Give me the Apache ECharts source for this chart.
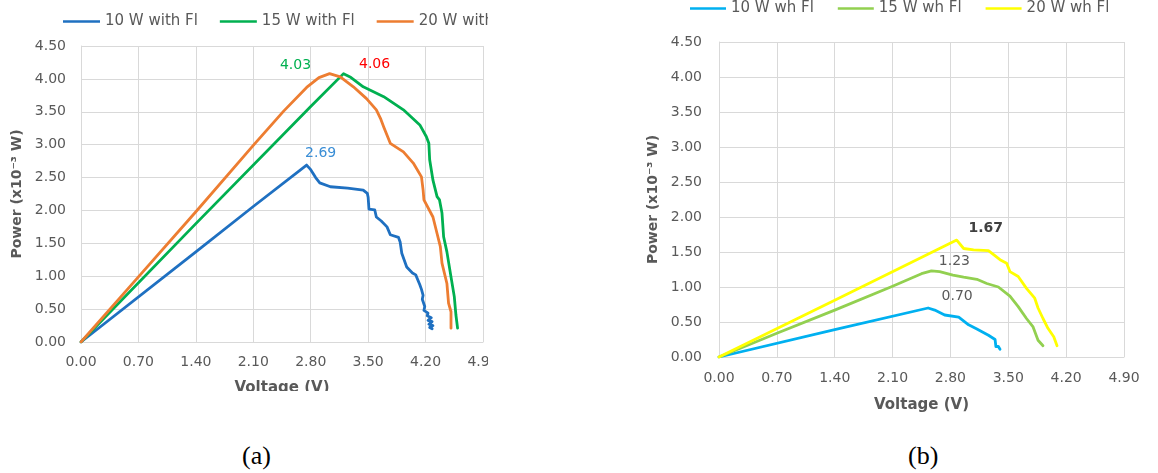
<!DOCTYPE html>
<html>
<head>
<meta charset="utf-8">
<script src="https://cdn.jsdelivr.net/npm/echarts@6/dist/echarts.min.js"></script>
<style>
html,body{margin:0;padding:0;background:#fff;width:1158px;height:473px;overflow:hidden;position:relative;}
#ca{position:absolute;left:0;top:0;width:488px;height:391px;}
#cb{position:absolute;left:600px;top:0;width:558px;height:430px;}
.cap{position:absolute;top:440px;font-family:"Liberation Serif","Times New Roman",serif;font-size:26px;color:#000;line-height:32px;}
</style>
</head>
<body>
<div id="ca"></div>
<div id="cb"></div>
<div class="cap" style="left:242px;">(a)</div>
<div class="cap" style="left:908px;">(b)</div>
<script>
// ---- data (Voltage V, Power x10^-3 W) ----
var xTicks = [0, 0.7, 1.4, 2.1, 2.8, 3.5, 4.2, 4.9];
var yTicks = [0, 0.5, 1, 1.5, 2, 2.5, 3, 3.5, 4, 4.5];

var names_a = ['10 W with Fl', '15 W with Fl', '20 W with Fl'];
var names_b = ['10 W wh Fl', '15 W wh Fl', '20 W wh Fl'];

var w10Fl = [[0,0],[1.4,1.37],[2.10,2.06],[2.75,2.69],[2.80,2.62],[2.86,2.50],[2.91,2.42],[3.04,2.36],[3.25,2.34],[3.44,2.31],[3.49,2.26],[3.50,2.20],[3.51,2.02],[3.58,2.01],[3.60,1.90],[3.66,1.84],[3.73,1.75],[3.77,1.63],[3.87,1.59],[3.89,1.52],[3.91,1.35],[3.97,1.14],[4.04,1.05],[4.08,1.02],[4.13,0.87],[4.15,0.80],[4.17,0.71],[4.16,0.65],[4.19,0.54],[4.18,0.48],[4.23,0.44],[4.22,0.40],[4.27,0.37],[4.23,0.33],[4.28,0.31],[4.24,0.27],[4.29,0.25],[4.25,0.22],[4.28,0.20]];
var w15Fl = [[0,0],[1.4,1.80],[2.8,3.58],[3.20,4.08],[3.28,4.03],[3.44,3.88],[3.69,3.73],[3.93,3.53],[4.13,3.30],[4.21,3.12],[4.24,3.02],[4.25,2.77],[4.29,2.46],[4.34,2.21],[4.37,2.16],[4.40,1.96],[4.42,1.60],[4.46,1.37],[4.51,0.99],[4.55,0.69],[4.57,0.41],[4.59,0.40],[4.59,0.21]];
var w20Fl = [[0,0],[0.7,0.99],[1.4,1.98],[2.1,2.99],[2.47,3.51],[2.75,3.87],[2.90,4.02],[3.03,4.08],[3.16,4.03],[3.32,3.88],[3.48,3.70],[3.60,3.53],[3.65,3.40],[3.69,3.27],[3.77,3.02],[3.93,2.89],[4.05,2.72],[4.15,2.51],[4.17,2.31],[4.18,2.16],[4.29,1.90],[4.34,1.65],[4.38,1.45],[4.40,1.20],[4.46,0.89],[4.48,0.59],[4.51,0.46],[4.51,0.21]];

var w10wh = [[0,0],[1.4,0.39],[2.53,0.70],[2.61,0.67],[2.73,0.60],[2.90,0.57],[3.02,0.46],[3.12,0.40],[3.26,0.31],[3.34,0.25],[3.35,0.15],[3.38,0.15],[3.40,0.11]];
var w15wh = [[0,0],[0.7,0.34],[1.4,0.67],[2.1,1.01],[2.45,1.19],[2.57,1.23],[2.67,1.22],[2.83,1.17],[2.96,1.14],[3.12,1.11],[3.24,1.05],[3.38,1.00],[3.52,0.87],[3.62,0.72],[3.72,0.55],[3.80,0.43],[3.86,0.24],[3.92,0.16]];
var w20wh = [[0,0],[1.4,0.81],[2.876,1.67],[2.96,1.55],[3.08,1.53],[3.26,1.52],[3.40,1.39],[3.48,1.34],[3.52,1.22],[3.62,1.15],[3.72,0.98],[3.82,0.84],[3.86,0.70],[3.92,0.55],[3.98,0.41],[4.05,0.29],[4.09,0.16]];

var peak_a = [2.69, 4.03, 4.06];
var peak_b = [0.70, 1.23, 1.67];

var FONT = '"DejaVu Sans", Verdana, sans-serif';
var GRAY = '#595959';

function peakOf(d){var m=0;for(var i=1;i<d.length;i++){if(d[i][1]>d[m][1])m=i;}return d[m];}
function peakMark(data, text, color, offset, bold) {
  return { silent: true, animation: false, symbol: 'circle', symbolSize: 0,
    data: [{ coord: peakOf(data), label: { show: true, position: 'top', distance: 5, formatter: text, color: color, fontSize: 14, fontFamily: FONT, fontWeight: bold ? 'bold' : 'normal', offset: offset } }] };
}

function axes(labelMarginX, labelMarginY, nameGapX, nameGapY) {
  return {
    xAxis: { type: 'value', min: xTicks[0], max: xTicks[xTicks.length-1], interval: xTicks[1]-xTicks[0],
      name: 'Voltage (V)', nameLocation: 'middle', nameGap: nameGapX,
      nameTextStyle: { color: GRAY, fontSize: 15, fontWeight: 'bold', fontFamily: FONT },
      axisLine: { show: true, lineStyle: { color: '#D9D9D9', width: 1 } }, axisTick: { show: false },
      axisLabel: { color: GRAY, fontSize: 14, fontFamily: FONT, margin: labelMarginX, formatter: function(v){return v.toFixed(2);} },
      splitLine: { show: true, lineStyle: { color: '#D9D9D9', width: 1 } } },
    yAxis: { type: 'value', min: yTicks[0], max: yTicks[yTicks.length-1], interval: yTicks[1]-yTicks[0],
      name: 'Power (x10\u207B\u00B3 W)', nameLocation: 'middle', nameGap: nameGapY,
      nameTextStyle: { color: GRAY, fontSize: 14, fontWeight: 'bold', fontFamily: FONT },
      axisLine: { show: true, lineStyle: { color: '#D9D9D9', width: 1 } }, axisTick: { show: false },
      axisLabel: { color: GRAY, fontSize: 14, fontFamily: FONT, margin: labelMarginY, formatter: function(v){return v.toFixed(2);} },
      splitLine: { show: true, lineStyle: { color: '#D9D9D9', width: 1 } } }
  };
}
function line(name, data, color, mark) {
  return { name: name, type: 'line', data: data, symbol: 'none', showSymbol: false, lineStyle: { color: color, width: 2.8, join: 'round', cap: 'round' }, itemStyle: { color: color }, z: 3, markPoint: mark };
}

var chartA = echarts.init(document.getElementById('ca'), null, { renderer: 'canvas' });
var ax = axes(13, 15, 39, 54);
chartA.setOption({
  animation: false,
  backgroundColor: '#fff',
  grid: { left: 81, top: 46, width: 402, height: 296, outerBoundsMode: 'none', containLabel: false },
  legend: { left: 58, top: 9, width: 800, itemWidth: 37, itemHeight: 14, itemGap: 22, icon: 'path://M0,6L37,6L37,8.5L0,8.5Z',
    textStyle: { color: GRAY, fontSize: 15, fontFamily: FONT }, data: names_a },
  xAxis: ax.xAxis, yAxis: ax.yAxis,
  series: [
    line(names_a[0], w10Fl, '#1F70C1', peakMark(w10Fl, peak_a[0].toFixed(2), '#3A8ED6', [14, 0])),
    line(names_a[1], w15Fl, '#00B050', peakMark(w15Fl, peak_a[1].toFixed(2), '#00B050', [-48, 4])),
    line(names_a[2], w20Fl, '#ED7D31', peakMark(w20Fl, peak_a[2].toFixed(2), '#FF0000', [45, 3]))
  ]
});

var chartB = echarts.init(document.getElementById('cb'), null, { renderer: 'canvas' });
var bx = axes(14, 17, 41, 55);
chartB.setOption({
  animation: false,
  backgroundColor: '#fff',
  grid: { left: 119, top: 42, width: 405, height: 315, outerBoundsMode: 'none', containLabel: false },
  legend: { left: 85, top: -4, width: 800, itemWidth: 36, itemHeight: 14, itemGap: 24, icon: 'path://M0,6L36,6L36,8.5L0,8.5Z',
    textStyle: { color: GRAY, fontSize: 15, fontFamily: FONT }, data: names_b },
  xAxis: bx.xAxis, yAxis: bx.yAxis,
  series: [
    line(names_b[0], w10wh, '#00B0F0', peakMark(w10wh, peak_b[0].toFixed(2), GRAY, [29, 0])),
    line(names_b[1], w15wh, '#92D050', peakMark(w15wh, peak_b[1].toFixed(2), GRAY, [23, 2])),
    line(names_b[2], w20wh, '#FFFF00', peakMark(w20wh, peak_b[2].toFixed(2), '#404040', [29, 0], true))
  ]
});
</script>
</body>
</html>
